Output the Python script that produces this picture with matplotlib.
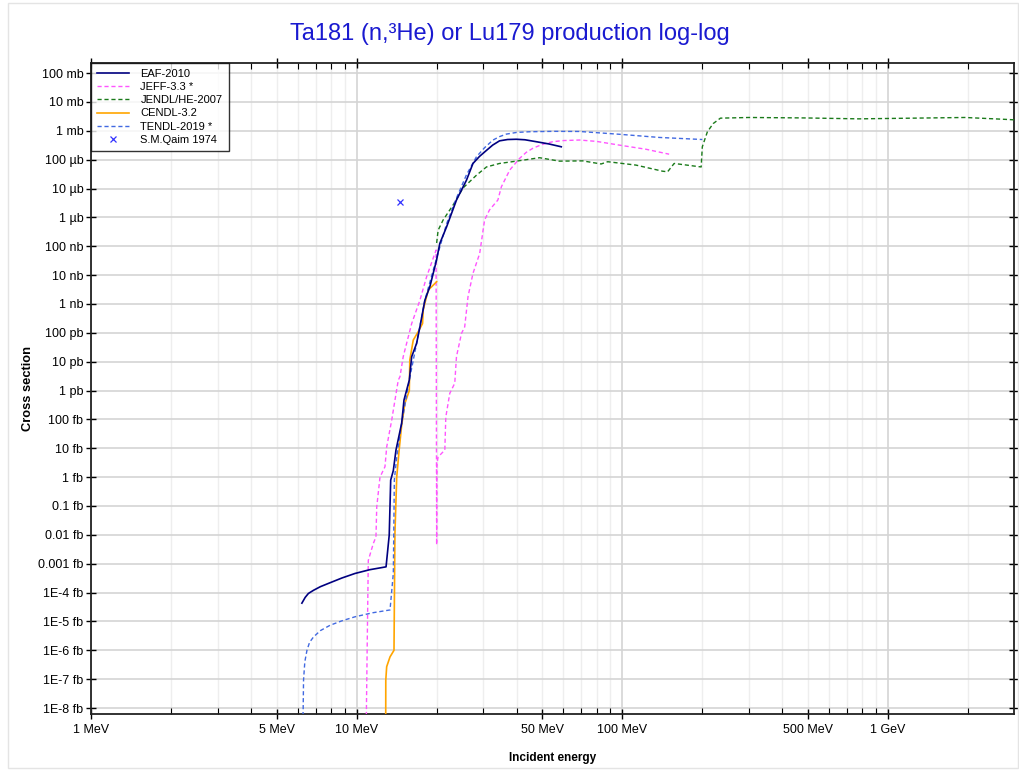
import matplotlib
matplotlib.use("Agg")
import matplotlib.pyplot as plt
from matplotlib.ticker import FixedLocator, NullFormatter
from matplotlib.patches import Rectangle

plt.rcParams['font.family'] = ['Liberation Sans', 'DejaVu Sans']

# --- DATA (energy in MeV, cross section in barns) ---
eaf_e = [6.22, 6.4, 6.58, 6.88, 7.3, 7.95, 8.8, 9.86, 11.2, 12.9, 13.26, 13.43, 13.74, 14.06,
         14.77, 15.07, 15.78, 16.11, 16.81, 17.3, 18.06, 18.86, 19.98, 20.56, 21.8, 23.75,
         25.9, 27.4, 29.0, 30.8, 32.5, 34.5, 37.0, 39.9, 43.0, 47.4, 53.0, 58.9]
eaf_s = [4.3e-20, 6.8e-20, 9.3e-20, 1.2e-19, 1.6e-19, 2.2e-19, 3.2e-19, 4.6e-19, 6.2e-19,
         7.8e-19, 9.8e-18, 7.9e-16, 1.7e-15, 8.7e-15, 7.4e-14, 4.7e-13, 2.3e-12, 1.5e-11,
         4.3e-11, 1.6e-10, 1.35e-9, 4e-9, 3.3e-8, 1.26e-7, 4.7e-7, 4e-6, 1.95e-5, 7.4e-5,
         1.3e-4, 2.1e-4, 3.2e-4, 4.5e-4, 5.0e-4, 5.1e-4, 4.9e-4, 4.2e-4, 3.5e-4, 2.8e-4]

jeff_e = [10.85, 10.95, 11.06, 11.55, 11.82, 11.9, 12.24, 12.78, 12.97, 13.55, 13.74, 14.34,
          14.55, 14.97, 16.11, 17.3, 18.33, 19.9, 20.0, 20.05, 20.26, 21.47, 21.65, 22.41,
          23.4, 23.75, 24.8, 25.5, 26.25, 27.4, 29.04, 30.3, 31.6, 34.0, 35.05, 37.7, 41.0,
          43.5, 46.1, 50.0, 54.7, 60.0, 69.0, 80.0, 97.4, 122.7, 150.0]
jeff_s = [1e-24, 1e-21, 1.3e-18, 5e-18, 8.5e-18, 9.3e-17, 1.0e-15, 2.3e-15, 1.1e-14, 9.5e-14,
          2.1e-13, 2.3e-12, 3e-12, 1.5e-11, 2.1e-10, 1.35e-9, 8.7e-9, 7.4e-8, 4.5e-18, 3e-15,
          5e-15, 8.7e-15, 1.2e-13, 8e-13, 1.8e-12, 1.5e-11, 9.5e-11, 1.6e-10, 1.8e-9, 1.15e-8,
          5.6e-8, 8.1e-7, 1.8e-6, 4e-6, 1.15e-5, 4.4e-5, 1.1e-4, 1.8e-4, 2.5e-4, 3.4e-4,
          4.2e-4, 4.6e-4, 4.8e-4, 4.3e-4, 3.2e-4, 2.3e-4, 1.55e-4]

jendl_e = [20.0, 20.26, 21.15, 23.07, 25.15, 28.24, 30.8, 34.5, 39.9, 48.8, 58.0, 70.9, 83.2,
           88.1, 112.5, 141.6, 148.0, 156.7, 198.0, 200.0, 209.0, 220.0, 234.0, 300.0, 482.0,
           776.0, 1950.0, 2755.0, 3000.0]
jendl_s = [1.3e-7, 3.6e-7, 8.1e-7, 2.7e-6, 1.05e-5, 2.9e-5, 5.6e-5, 7.4e-5, 8.9e-5, 1.17e-4,
           8.9e-5, 9.1e-5, 7.1e-5, 8.5e-5, 6.5e-5, 4e-5, 3.8e-5, 7.4e-5, 5.6e-5, 2.8e-4,
           9.3e-4, 1.8e-3, 2.75e-3, 2.9e-3, 2.8e-3, 2.6e-3, 2.9e-3, 2.5e-3, 2.4e-3]

cendl_e = [12.86, 12.87, 12.97, 13.35, 13.82, 13.93, 14.15, 14.45, 14.77, 15.19, 15.78, 15.85,
           16.33, 17.05, 17.7, 17.8, 18.58, 20.0]
cendl_s = [1e-24, 9.3e-23, 2.7e-22, 5.9e-22, 1.0e-21, 1.1e-17, 1.0e-15, 8.7e-15, 6.3e-14,
           3.6e-13, 1.0e-12, 1.15e-11, 5.6e-11, 1.1e-10, 2.1e-10, 6.2e-10, 3e-9, 5.9e-9]

tendl_e = [6.27, 6.29, 6.31, 6.38, 6.5, 6.65, 6.88, 7.3, 7.95, 8.8, 9.86, 11.5, 13.35, 13.74,
           13.86, 14.15, 14.77, 15.78, 16.81, 18.06, 19.98, 21.8, 23.75, 25.9, 28.24, 30.3,
           32.6, 34.5, 36.6, 40.0, 44.8, 55.0, 69.0, 97.4, 137.6, 200.0]
tendl_s = [3e-24, 1e-23, 9.3e-23, 4e-22, 1.0e-21, 1.9e-21, 2.9e-21, 4.8e-21, 7.4e-21, 1.05e-20,
           1.45e-20, 2e-20, 2.5e-20, 4.7e-19, 7.9e-16, 5e-15, 7.4e-14, 2.3e-12, 4.3e-11,
           1.35e-9, 3.8e-8, 6e-7, 4.7e-6, 3e-5, 1.26e-4, 2.6e-4, 4.8e-4, 6.3e-4, 7.7e-4,
           8.8e-4, 9.3e-4, 9.6e-4, 9.5e-4, 7.6e-4, 5.9e-4, 5e-4]

qaim_e = [14.5]
qaim_s = [3.4e-6]

ytick_vals = [10.0 ** (-1 - i) for i in range(23)]
ytick_labels = ['100 mb', '10 mb', '1 mb', '100 µb', '10 µb', '1 µb', '100 nb', '10 nb',
                '1 nb', '100 pb', '10 pb', '1 pb', '100 fb', '10 fb', '1 fb', '0.1 fb',
                '0.01 fb', '0.001 fb', '1E-4 fb', '1E-5 fb', '1E-6 fb', '1E-7 fb', '1E-8 fb']
xtick_vals = [1, 5, 10, 50, 100, 500, 1000]
xtick_labels = ['1 MeV', '5 MeV', '10 MeV', '50 MeV', '100 MeV', '500 MeV', '1 GeV']

# --- PLOT ---
fig = plt.figure(figsize=(10.2, 7.73), dpi=100)
ax = fig.add_axes([91 / 1020, 59 / 773, 923 / 1020, 651 / 773])
ax.set_xscale('log')
ax.set_yscale('log')
ax.set_xlim(1, 2980)
ax.set_ylim(6.2e-24, 0.224)

# grid
minor_x = [m * 10 ** d for d in range(0, 4) for m in range(2, 10) if m * 10 ** d < 3000]
for xv in minor_x:
    ax.axvline(xv, color='#eeeeee', lw=1, zorder=0)
for xv in [1, 10, 100, 1000]:
    ax.axvline(xv, color='#d4d4d4', lw=1.2, zorder=0)
for yv in ytick_vals:
    ax.axhline(yv, color='#d4d4d4', lw=1.2, zorder=0)

dash = (0, (3, 2))
ax.plot(eaf_e, eaf_s, color='#000080', lw=1.2, label='EAF-2010', zorder=5)
ax.plot(jeff_e, jeff_s, color='#ff55ff', lw=1.0, linestyle=dash, label='JEFF-3.3 *', zorder=3)
ax.plot(jendl_e, jendl_s, color='#1a7a1a', lw=1.0, linestyle=dash, label='JENDL/HE-2007', zorder=3)
ax.plot(cendl_e, cendl_s, color='#ffa500', lw=1.2, label='CENDL-3.2', zorder=4)
ax.plot(tendl_e, tendl_s, color='#4169e1', lw=1.0, linestyle=dash, label='TENDL-2019 *', zorder=4)
ax.plot(qaim_e, qaim_s, linestyle='none', marker='x', color='#3333ff', ms=5, mew=0.9,
        label='S.M.Qaim 1974', zorder=6)

ax.yaxis.set_major_locator(FixedLocator(ytick_vals))
ax.set_yticklabels(ytick_labels)
ax.yaxis.set_minor_formatter(NullFormatter())
ax.xaxis.set_major_locator(FixedLocator(xtick_vals))
ax.set_xticklabels(xtick_labels)
ax.xaxis.set_minor_locator(FixedLocator([v for v in minor_x if v not in (5, 50, 500)]))
ax.xaxis.set_minor_formatter(NullFormatter())
ax.yaxis.set_minor_locator(FixedLocator([]))

ax.tick_params(axis='both', which='major', direction='inout', length=7, width=1,
               labelsize=9, top=True, right=True)
ax.tick_params(axis='x', which='major', pad=4)
ax.tick_params(axis='y', which='major', pad=2)
ax.tick_params(axis='both', which='minor', direction='in', length=4, width=0.8,
               top=True, right=True)
for s in ax.spines.values():
    s.set_linewidth(1.3)
    s.set_color('#222222')

ax.set_xlabel('Incident energy', fontsize=8.5, fontweight='bold', labelpad=11)
ax.set_ylabel('Cross section', fontsize=9.3, fontweight='bold', labelpad=3)
fig.text(0.5, 1 - 34 / 773, 'Ta181 (n,³He) or Lu179 production log-log', ha='center',
         va='center', fontsize=17, color='#1a1ad0')

leg = ax.legend(loc='upper left', fontsize=8, frameon=True, fancybox=False,
                borderaxespad=0, handlelength=2.9, labelspacing=0.28, borderpad=0.55,
                handletextpad=1.0)
leg.get_frame().set_edgecolor('black')
leg.get_frame().set_linewidth(1)

fig.patches.append(Rectangle((8 / 1020, 5 / 773), 1010 / 1020, 765 / 773,
                             transform=fig.transFigure, fill=False,
                             edgecolor='#e4e4e4', lw=1))

fig.savefig('out.png', dpi=100)
